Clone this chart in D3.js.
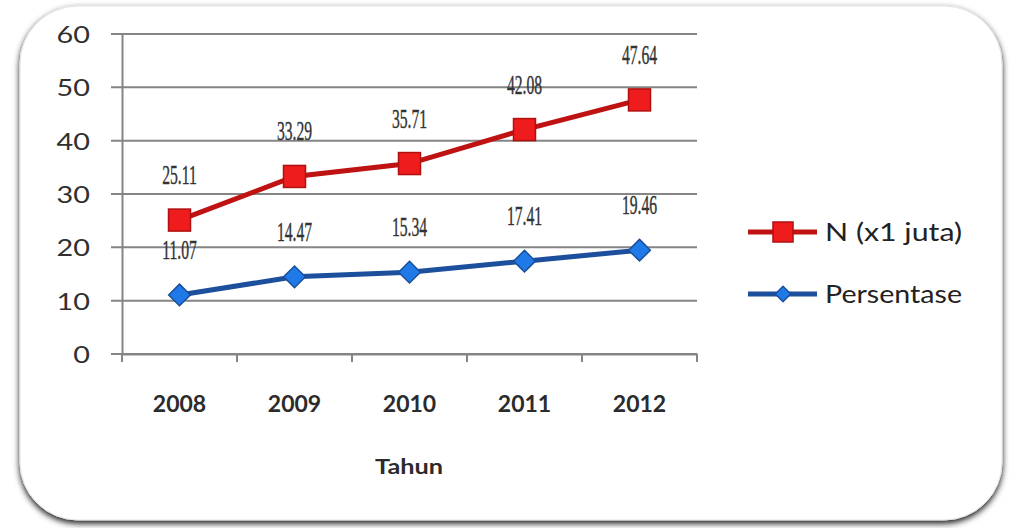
<!DOCTYPE html>
<html>
<head>
<meta charset="utf-8">
<script src="https://cdn.jsdelivr.net/npm/d3@7"></script>
<style>
  body { margin: 0; background: #fff; }
  svg { display: block; }
</style>
</head>
<body>
<div id="chart"></div>
<script>
const years = ["2008", "2009", "2010", "2011", "2012"];
const nJuta = [25.11, 33.29, 35.71, 42.08, 47.64];
const persentase = [11.07, 14.47, 15.34, 17.41, 19.46];
const yTicks = [0, 10, 20, 30, 40, 50, 60];
const seriesNames = ["N (x1 juta)", "Persentase"];

const width = 1009, height = 528;
const svg = d3.select("#chart").append("svg")
    .attr("width", width)
    .attr("height", height);

// frame with shadow
const defs = svg.append("defs");
const f = defs.append("filter").attr("id", "shadow")
    .attr("x", "-5%").attr("y", "-5%").attr("width", "110%").attr("height", "115%");
f.append("feDropShadow")
    .attr("dx", 0).attr("dy", 3)
    .attr("stdDeviation", 3)
    .attr("flood-color", "#000")
    .attr("flood-opacity", 0.9);

svg.append("rect")
    .attr("x", 20).attr("y", 6)
    .attr("width", 982).attr("height", 514)
    .attr("rx", 58).attr("ry", 58)
    .attr("fill", "#fff")
    .attr("stroke", "#e4e4e4")
    .attr("stroke-width", 1)
    .attr("filter", "url(#shadow)");

const plotLeft = 122, plotRight = 697, plotTop = 34, plotBottom = 354;

const x = d3.scaleBand().domain(years).range([plotLeft, plotRight]);
const y = d3.scaleLinear().domain([0, 60]).range([plotBottom, plotTop]);

// gridlines
svg.append("g")
    .selectAll("line")
    .data(yTicks)
    .enter()
    .append("line")
    .attr("x1", plotLeft - 11)
    .attr("x2", plotRight)
    .attr("y1", d => y(d))
    .attr("y2", d => y(d))
    .attr("stroke", "#858585")
    .attr("stroke-width", 2);

// y axis
const yAxis = d3.axisLeft(y).tickValues(yTicks).tickSize(0);
const gy = svg.append("g")
    .attr("transform", "translate(" + plotLeft + ",0)")
    .call(yAxis);
gy.select(".domain").attr("stroke", "#858585").attr("stroke-width", 2);
gy.selectAll("text")
    .attr("x", 0)
    .attr("transform", "translate(-32,0) scale(1.2,1)")
    .attr("font-family", "Lato, 'Open Sans', sans-serif")
    .attr("font-size", 24)
    .attr("fill", "#303030")
    .attr("dy", "0.36em");

// x axis
const xAxis = d3.axisBottom(x).tickSize(0).tickPadding(42);
const gx = svg.append("g")
    .attr("transform", "translate(0," + plotBottom + ")")
    .call(xAxis);
gx.select(".domain").attr("stroke", "#858585").attr("stroke-width", 2);
gx.selectAll("text")
    .attr("font-family", "Lato, 'Open Sans', sans-serif")
    .attr("font-weight", "bold")
    .attr("font-size", 23)
    .attr("fill", "#2b2b2b");

// tick marks at category boundaries
svg.append("g")
    .selectAll("line")
    .data(d3.range(years.length + 1))
    .enter()
    .append("line")
    .attr("x1", i => plotLeft + i * x.bandwidth())
    .attr("x2", i => plotLeft + i * x.bandwidth())
    .attr("y1", plotBottom)
    .attr("y2", plotBottom + 8)
    .attr("stroke", "#858585")
    .attr("stroke-width", 2);

svg.append("text")
    .attr("x", 375)
    .attr("y", 474)
    .attr("textLength", 68)
    .attr("lengthAdjust", "spacingAndGlyphs")
    .attr("font-family", "Lato, 'Open Sans', sans-serif")
    .attr("font-weight", "bold")
    .attr("font-size", 21)
    .attr("fill", "#2b2b2b")
    .text("Tahun");

const cx = d => x(d) + x.bandwidth() / 2;
const line = d3.line()
    .x(d => cx(d.year))
    .y(d => y(d.value));

const redData = years.map((yr, i) => ({ year: yr, value: nJuta[i] }));
const blueData = years.map((yr, i) => ({ year: yr, value: persentase[i] }));

// blue series
svg.append("path")
    .attr("d", line(blueData))
    .attr("fill", "none")
    .attr("stroke", "#1c4f9c")
    .attr("stroke-width", 5);
const diamond = d3.symbol().type(d3.symbolDiamond2).size(300);
svg.selectAll(".bm")
    .data(blueData)
    .enter()
    .append("path")
    .attr("class", "bm")
    .attr("d", diamond)
    .attr("transform", d => "translate(" + cx(d.year) + "," + y(d.value) + ")")
    .attr("fill", "#1f7ae8")
    .attr("stroke", "#1a4f9a")
    .attr("stroke-width", 1.5);

// red series
svg.append("path")
    .attr("d", line(redData))
    .attr("fill", "none")
    .attr("stroke", "#bf1212")
    .attr("stroke-width", 5);
svg.selectAll(".rm")
    .data(redData)
    .enter()
    .append("rect")
    .attr("class", "rm")
    .attr("x", d => cx(d.year) - 11)
    .attr("y", d => y(d.value) - 11)
    .attr("width", 22)
    .attr("height", 22)
    .attr("fill", "#ee1c1c")
    .attr("stroke", "#b01010")
    .attr("stroke-width", 1.5);

// data labels
function addLabels(data) {
    svg.append("g")
        .selectAll("text")
        .data(data)
        .enter()
        .append("text")
        .attr("transform", d => "translate(" + cx(d.year) + "," + (y(d.value) - 36) + ") scale(0.58,1)")
        .attr("text-anchor", "middle")
        .attr("font-family", "'Liberation Serif', serif")
        .attr("font-size", 27)
        .attr("fill", "#333")
        .attr("stroke", "#333")
        .attr("stroke-width", 0.4)
        .text(d => d.value.toFixed(2));
}
addLabels(redData);
addLabels(blueData);

// legend
const legend = svg.append("g");
const lg = [
    { name: seriesNames[0], y: 232, stroke: "#bf1212", fill: "#ee1c1c", mstroke: "#b01010", shape: "square" },
    { name: seriesNames[1], y: 294, stroke: "#1c4f9c", fill: "#1f7ae8", mstroke: "#1a4f9a", shape: "diamond" }
];
lg.forEach(function (d) {
    legend.append("line")
        .attr("x1", 748).attr("x2", 817)
        .attr("y1", d.y).attr("y2", d.y)
        .attr("stroke", d.stroke)
        .attr("stroke-width", 5);
    if (d.shape === "square") {
        legend.append("rect")
            .attr("x", 773).attr("y", d.y - 10)
            .attr("width", 20).attr("height", 20)
            .attr("fill", d.fill)
            .attr("stroke", d.mstroke)
            .attr("stroke-width", 1.5);
    } else {
        legend.append("path")
            .attr("d", d3.symbol().type(d3.symbolDiamond2).size(150))
            .attr("transform", "translate(783," + d.y + ")")
            .attr("fill", d.fill)
            .attr("stroke", d.mstroke)
            .attr("stroke-width", 1.5);
    }
    legend.append("text")
        .attr("x", 825)
        .attr("y", d.y)
        .attr("dy", "0.35em")
        .attr("textLength", 137)
        .attr("lengthAdjust", "spacingAndGlyphs")
        .attr("font-family", "Lato, 'Open Sans', sans-serif")
        .attr("font-size", 25)
        .attr("fill", "#222")
        .text(d.name);
});
</script>
</body>
</html>
